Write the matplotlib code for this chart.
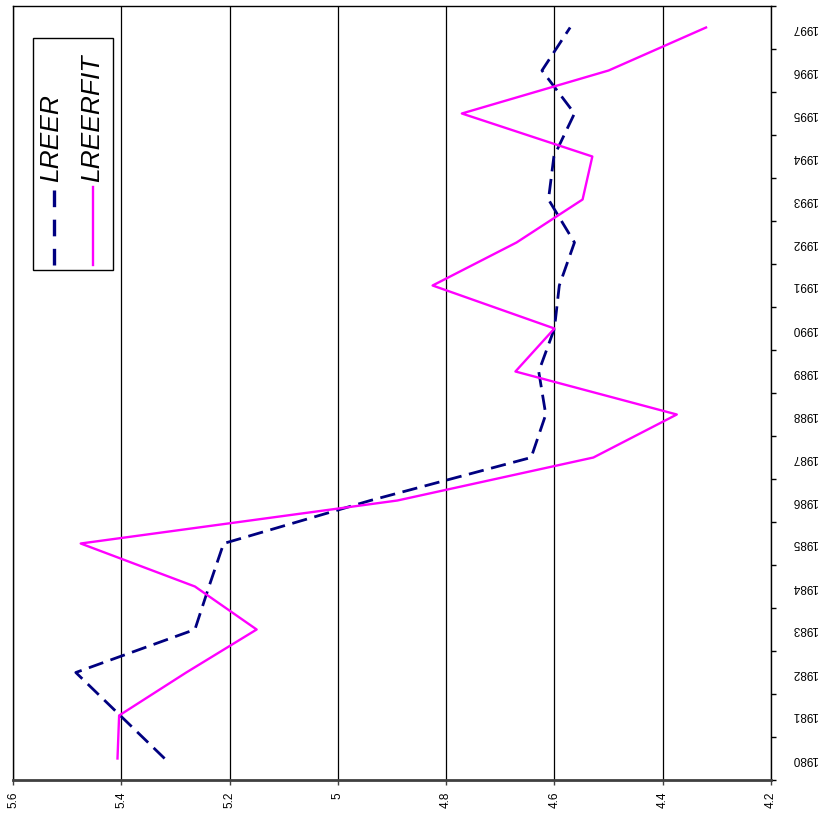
import matplotlib
matplotlib.use("Agg")
import matplotlib.pyplot as plt
from matplotlib.patches import Rectangle

plt.rcParams["font.family"] = ["Liberation Sans", "DejaVu Sans"]
plt.rcParams["lines.scale_dashes"] = False

years = [1980, 1981, 1982, 1983, 1984, 1985, 1986, 1987, 1988,
         1989, 1990, 1991, 1992, 1993, 1994, 1995, 1996, 1997]
lreer = [5.320, 5.402, 5.484, 5.264, 5.238, 5.211, 4.940, 4.643, 4.616,
         4.629, 4.600, 4.591, 4.563, 4.611, 4.601, 4.563, 4.623, 4.571]
lreerfit = [5.407, 5.404, 5.280, 5.150, 5.264, 5.475, 4.890, 4.528, 4.374,
            4.672, 4.600, 4.825, 4.670, 4.548, 4.530, 4.771, 4.500, 4.320]
value_ticks = [5.6, 5.4, 5.2, 5.0, 4.8, 4.6, 4.4, 4.2]
value_labels = ["5.6", "5.4", "5.2", "5", "4.8", "4.6", "4.4", "4.2"]

NAVY = "#000080"
MAGENTA = "#FF00FF"

fig = plt.figure(figsize=(8.2, 8.16), dpi=100)
ax = fig.add_axes([13 / 820, 36 / 816, 758 / 820, 774 / 816])

pos = list(range(len(years)))
ax.plot(lreer, pos, color=NAVY, lw=2.0, dashes=(11, 5.5), zorder=3)
ax.plot(lreerfit, pos, color=MAGENTA, lw=1.7, zorder=4)

# value axis along the bottom, reversed
ax.set_xlim(5.6, 4.2)
ax.set_xticks(value_ticks)
ax.set_xticklabels(value_labels, rotation=90, fontsize=8.5)
ax.tick_params(axis="x", direction="out", length=3.6, width=1, pad=5, color="#404040")
for v in value_ticks:
    ax.axvline(v, color="black", lw=0.9, zorder=1)

# category axis on the right, labels turned upside down
ax.set_ylim(-0.5, len(years) - 0.5)
ax.yaxis.tick_right()
ax.set_yticks(pos)
ax.set_yticklabels([str(y) for y in years], rotation=180, fontsize=8.5,
                   va="center", ha="left")
ax.set_yticks([p - 0.5 for p in pos] + [len(years) - 0.5], minor=True)
ax.tick_params(axis="y", which="major", length=0, pad=15)
ax.tick_params(axis="y", which="minor", direction="out", length=3.6, width=1)

for side in ("top", "left", "right"):
    ax.spines[side].set_color("black")
    ax.spines[side].set_linewidth(1.0)
ax.spines["bottom"].set_color("#404040")
ax.spines["bottom"].set_linewidth(2.0)

# legend drawn sideways
ax.add_patch(Rectangle((0.0264, 0.6589), 0.1056, 0.2998, transform=ax.transAxes,
                       facecolor="white", edgecolor="black", lw=1.0, zorder=5))
ax.plot([0.0541, 0.0541], [0.6654, 0.7661], transform=ax.transAxes,
        color=NAVY, lw=2.4, dashes=(12, 9), zorder=6)
ax.plot([0.1055, 0.1055], [0.6654, 0.7661], transform=ax.transAxes,
        color=MAGENTA, lw=1.7, zorder=6)
ax.text(0.0508, 0.7726, "LREER", transform=ax.transAxes, rotation=90,
        ha="center", va="bottom", fontsize=19, style="italic", zorder=6)
ax.text(0.1049, 0.7726, "LREERFIT", transform=ax.transAxes, rotation=90,
        ha="center", va="bottom", fontsize=19, style="italic", zorder=6)

fig.savefig("out.png", dpi=100)
